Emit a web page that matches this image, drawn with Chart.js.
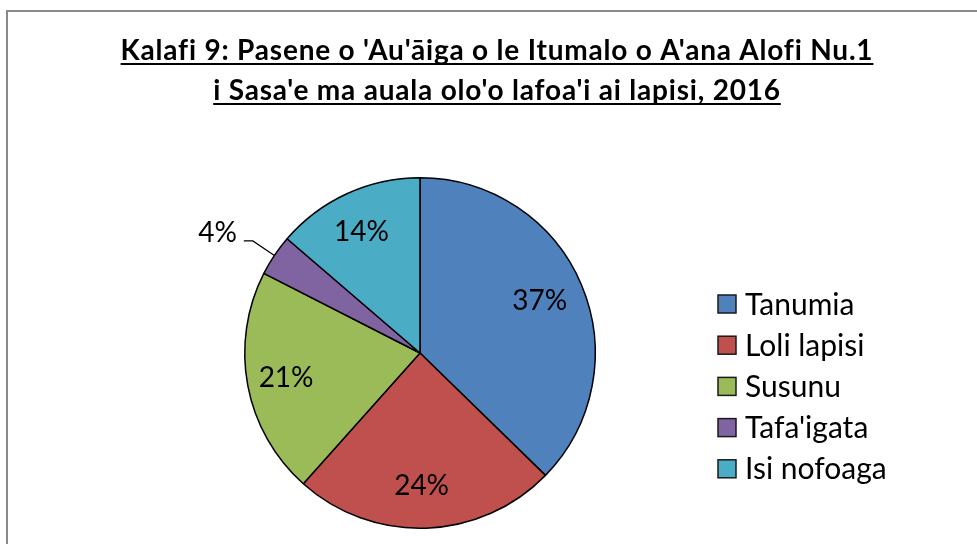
<!DOCTYPE html>
<html>
<head>
<meta charset="utf-8">
<script src="https://cdn.jsdelivr.net/npm/chart.js@4"></script>
<style>
  html, body { margin: 0; padding: 0; background: #fff; }
  canvas { display: block; }
</style>
</head>
<body>
<canvas id="myChart" width="977" height="544"></canvas>
<script>
// Dữ liệu biểu đồ
const titleLines = ["Kalafi 9: Pasene o 'Au'āiga o le Itumalo o A'ana Alofi Nu.1", "i Sasa'e ma auala olo'o lafoa'i ai lapisi, 2016"];
const categories = ["Tanumia", "Loli lapisi", "Susunu", "Tafa'igata", "Isi nofoaga"];
const values = [37.3, 24.3, 20.9, 3.8, 13.7];
const sliceColors = ["#4F81BD", "#C0504D", "#9BBB59", "#8064A2", "#4BACC6"];

const FONT = "Lato, 'Liberation Sans', sans-serif";

// Khung, tiêu đề, chú thích và nhãn phần trăm
const decorPlugin = {
    id: 'decor',
    beforeDraw(chart) {
        const ctx = chart.ctx;
        ctx.save();
        ctx.fillStyle = '#fff';
        ctx.fillRect(0, 0, chart.width, chart.height);
        ctx.strokeStyle = '#898989';
        ctx.lineWidth = 2;
        ctx.strokeRect(7, 11, chart.width + 10, chart.height + 10);
        ctx.restore();
    },
    afterDraw(chart) {
        const ctx = chart.ctx;
        ctx.save();
        // tiêu đề gạch chân
        ctx.fillStyle = '#000';
        ctx.font = "bold 28px " + FONT;
        ctx.letterSpacing = '0.8px';
        ctx.textAlign = 'center';
        ctx.textBaseline = 'alphabetic';
        const baselines = [60, 100];
        titleLines.forEach(function (t, i) {
            ctx.fillText(t, 497, baselines[i]);
            const w = ctx.measureText(t).width;
            ctx.fillRect(497 - w / 2, baselines[i] + 3, w, 2);
        });
        ctx.letterSpacing = '0px';

        // chú thích
        ctx.font = "30px " + FONT;
        ctx.textAlign = 'left';
        ctx.textBaseline = 'middle';
        categories.forEach(function (c, i) {
            const y = 304 + i * 41.2;
            ctx.fillStyle = sliceColors[i];
            ctx.fillRect(718, y - 9, 18, 18);
            ctx.strokeStyle = '#1a1a1a';
            ctx.lineWidth = 1.5;
            ctx.strokeRect(718, y - 9, 18, 18);
            ctx.fillStyle = '#000';
            ctx.fillText(c, 745, y + 1);
        });

        // nhãn phần trăm
        const meta = chart.getDatasetMeta(0);
        const total = values.reduce((a, b) => a + b, 0);
        ctx.font = "28px " + FONT;
        meta.data.forEach(function (arc, i) {
            const p = arc.getProps(['x', 'y', 'startAngle', 'endAngle', 'outerRadius'], true);
            const mid = (p.startAngle + p.endAngle) / 2;
            const pct = Math.round(values[i] / total * 100) + '%';
            const cos = Math.cos(mid), sin = Math.sin(mid);
            if (values[i] / total < 0.05) {
                const ex = p.x + cos * p.outerRadius, ey = p.y + sin * p.outerRadius;
                const bx = p.x + cos * (p.outerRadius + 26), by = p.y + sin * (p.outerRadius + 26);
                ctx.strokeStyle = '#000';
                ctx.lineWidth = 1.2;
                ctx.beginPath();
                ctx.moveTo(ex, ey);
                ctx.lineTo(bx, by);
                ctx.lineTo(bx - 9, by);
                ctx.stroke();
                ctx.fillStyle = '#000';
                ctx.textAlign = 'right';
                ctx.textBaseline = 'alphabetic';
                ctx.fillText(pct, bx - 16, by + 1);
            } else {
                const r = p.outerRadius * 0.76;
                ctx.fillStyle = '#000';
                ctx.textAlign = 'center';
                ctx.textBaseline = 'middle';
                ctx.fillText(pct, p.x + cos * r - 3, p.y + sin * r);
            }
        });
        ctx.restore();
    }
};

const ctx = document.getElementById('myChart').getContext('2d');
const myChart = new Chart(ctx, {
    type: 'pie',
    data: {
        labels: categories,
        datasets: [{
            data: values,
            backgroundColor: sliceColors,
            borderColor: '#000',
            borderWidth: 1.5
        }]
    },
    options: {
        responsive: false,
        animation: false,
        layout: { padding: { left: 244, right: 381, top: 177, bottom: 15 } },
        plugins: {
            legend: { display: false },
            tooltip: { enabled: false }
        }
    },
    plugins: [decorPlugin]
});
</script>
</body>
</html>
